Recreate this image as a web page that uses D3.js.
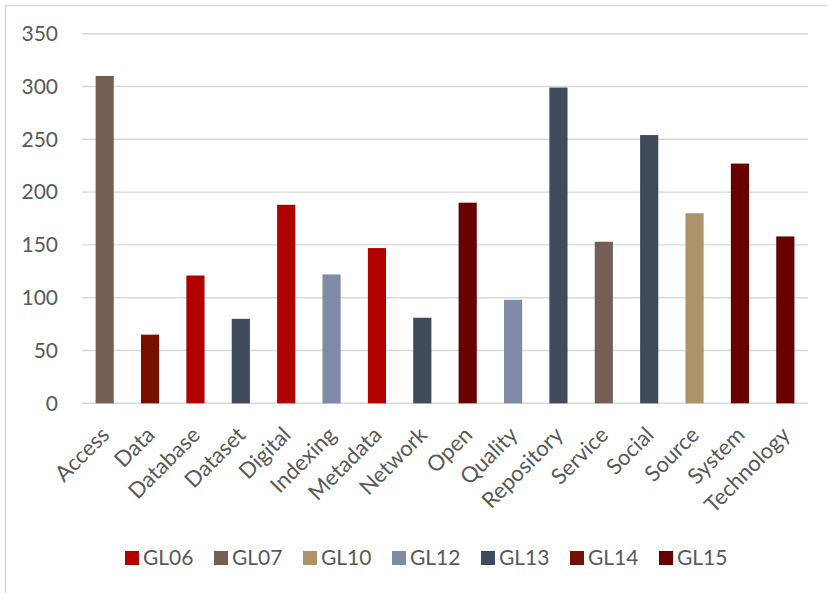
<!DOCTYPE html>
<html>
<head>
<meta charset="utf-8">
<script src="https://cdn.jsdelivr.net/npm/d3@7"></script>
<style>
  html, body { margin: 0; padding: 0; background: #fff; }
  svg { display: block; }
  text { font-family: Lato, "Open Sans", sans-serif; fill: #595959; }
</style>
</head>
<body>
<svg id="chart" width="827" height="593"></svg>
<script>
const categories = ["Access","Data","Database","Dataset","Digital","Indexing","Metadata","Network","Open","Quality","Repository","Service","Social","Source","System","Technology"];
const values = [310, 65, 121, 80, 188, 122, 147, 81, 190, 98, 299, 153, 254, 180, 227, 158];
const groups = ["GL07","GL14","GL06","GL13","GL06","GL12","GL06","GL13","GL15","GL12","GL13","GL07","GL13","GL10","GL15","GL15"];
const seriesNames = ["GL06","GL07","GL10","GL12","GL13","GL14","GL15"];
const seriesColors = ["#B00000","#735F54","#AD936C","#7F8BA6","#3F4B5B","#761000","#690000"];
const yTicks = [0, 50, 100, 150, 200, 250, 300, 350];

const svg = d3.select("#chart");
const plot = { left: 82, right: 808, top: 33.7, bottom: 403.3 };

// outer frame
svg.append("rect")
  .attr("x", 5.5).attr("y", 5.5).attr("width", 1000).attr("height", 1000)
  .attr("fill", "none").attr("stroke", "#d9d9d9").attr("stroke-width", 1.5);

const x = d3.scaleBand().domain(categories).range([plot.left, plot.right]).paddingInner(0.6).paddingOuter(0.3);
const y = d3.scaleLinear().domain([0, 350]).range([plot.bottom, plot.top]);
const color = d3.scaleOrdinal().domain(seriesNames).range(seriesColors);

// gridlines
svg.append("g").selectAll("line").data(yTicks).join("line")
  .attr("x1", plot.left).attr("x2", plot.right)
  .attr("y1", d => y(d)).attr("y2", d => y(d))
  .attr("stroke", "#d9d9d9").attr("stroke-width", 1.4);

// y labels
const yAxis = d3.axisLeft(y).tickValues(yTicks).tickSize(0).tickPadding(0);
const gy = svg.append("g").attr("transform", `translate(58,0)`).call(yAxis);
gy.select(".domain").remove();
gy.selectAll("text").attr("font-size", 21).attr("fill", "#595959")
  .style("font-family", "Lato, 'Open Sans', sans-serif");

// bars
svg.append("g").selectAll("rect").data(categories).join("rect")
  .attr("x", d => x(d))
  .attr("width", x.bandwidth())
  .attr("y", (d, i) => y(values[i]))
  .attr("height", (d, i) => y(0) - y(values[i]))
  .attr("fill", (d, i) => color(groups[i]));

// x labels
const xAxis = d3.axisBottom(x).tickSize(0).tickPadding(0);
const gx = svg.append("g").attr("transform", `translate(0,${plot.bottom})`).call(xAxis);
gx.select(".domain").remove();
gx.selectAll(".tick text")
  .attr("font-size", 22).attr("fill", "#595959")
  .style("font-family", "Lato, 'Open Sans', sans-serif")
  .attr("text-anchor", "end")
  .attr("dy", null)
  .attr("y", 0)
  .attr("transform", "translate(6,33) rotate(-45)");

// legend
const leg = svg.append("g");
const item = leg.selectAll("g").data(seriesNames).join("g")
  .attr("transform", (d, i) => `translate(${125 + i * 89},551)`);
item.append("rect").attr("width", 14).attr("height", 14).attr("fill", d => color(d));
item.append("text").attr("x", 18).attr("y", 13.5).attr("font-size", 21).text(d => d);
</script>
</body>
</html>
